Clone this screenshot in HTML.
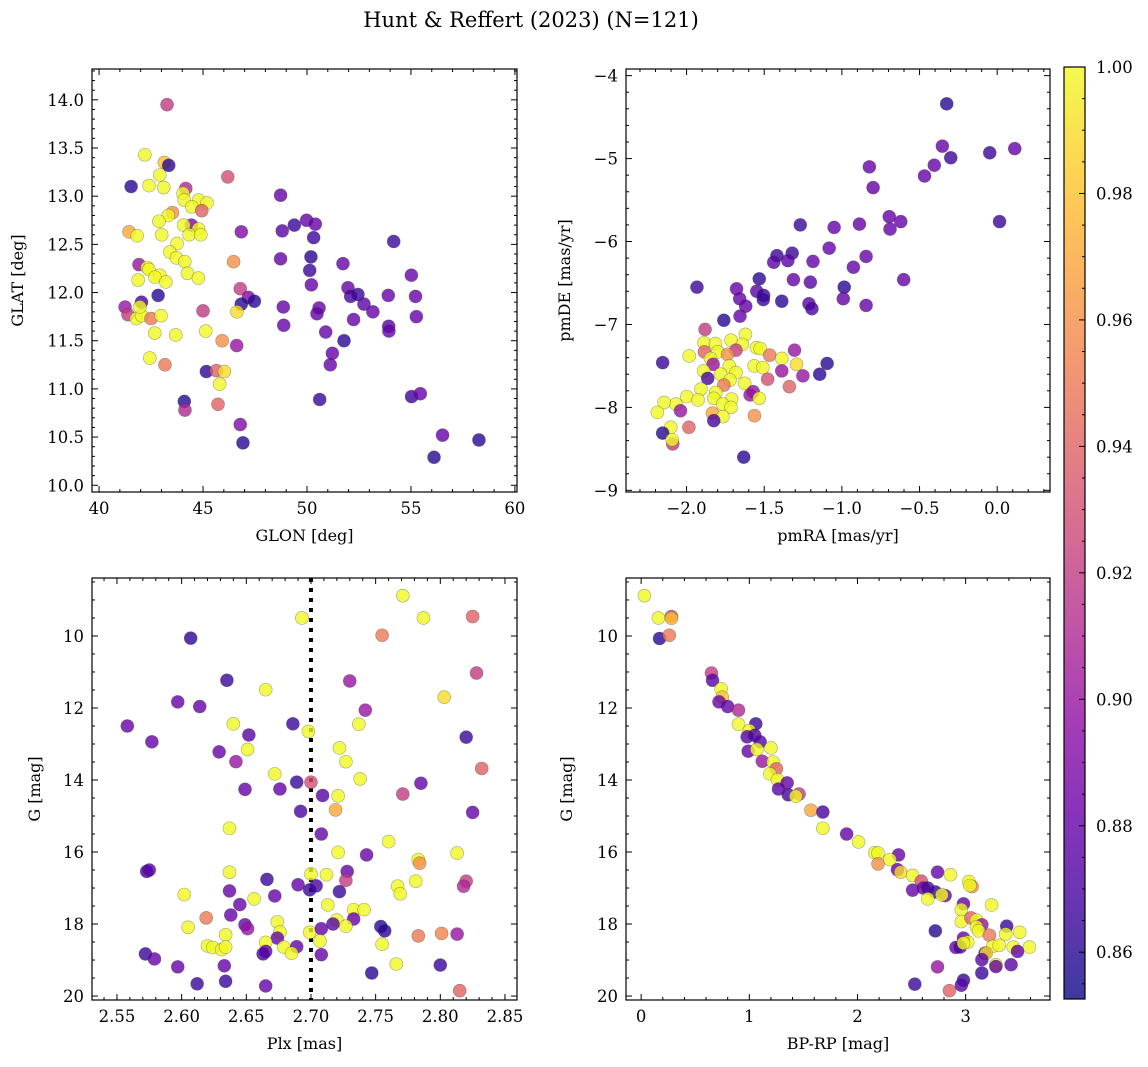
<!DOCTYPE html>
<html><head><meta charset="utf-8">
<style>
html,body{margin:0;padding:0;background:#fff;}
svg{display:block;font-family:"DejaVu Serif","Liberation Serif",serif;}
</style></head>
<body>
<svg id="fig" width="1148" height="1067" viewBox="0 0 1148 1067" xmlns="http://www.w3.org/2000/svg">
<defs>
<linearGradient id="cbgrad" x1="0" y1="1" x2="0" y2="0">
<stop offset="0" stop-color="#0d0887"/><stop offset="0.1" stop-color="#41049d"/><stop offset="0.2" stop-color="#6a00a8"/><stop offset="0.3" stop-color="#8f0da4"/><stop offset="0.4" stop-color="#b12a90"/><stop offset="0.5" stop-color="#cc4778"/><stop offset="0.6" stop-color="#e16462"/><stop offset="0.7" stop-color="#f2844b"/><stop offset="0.8" stop-color="#fca636"/><stop offset="0.9" stop-color="#fcce25"/><stop offset="1" stop-color="#f0f921"/>
</linearGradient>
</defs>
<text x="531" y="27" font-size="21" text-anchor="middle">Hunt &amp; Reffert (2023) (N=121)</text>
</svg>
<script>
// ---- Panel 1: GLON vs GLAT ----
const glon = [43.27,42.20,43.14,43.35,41.54,42.92,42.40,43.11,44.17,44.04,44.09,44.79,45.19,44.46,44.94,43.53,43.33,42.88,44.44,44.07,44.78,44.33,44.89,43.01,41.44,41.83,43.75,43.40,43.72,44.12,41.92,42.31,42.40,44.25,42.92,42.69,43.21,44.78,41.88,46.84,46.47,46.19,46.79,47.18,46.84,47.47,42.84,42.04,41.25,41.39,41.79,42.05,42.50,42.98,41.96,45.0,46.63,45.13,42.68,43.69,45.92,46.62,42.44,43.17,45.16,45.64,46.03,45.80,44.10,44.13,45.72,46.79,46.92,48.73,48.81,49.39,49.98,50.40,50.32,48.73,50.19,50.13,50.21,51.73,54.17,55.02,51.97,52.10,52.45,52.74,53.17,53.91,55.22,48.86,50.58,50.48,55.26,48.88,52.24,50.90,51.78,53.93,53.94,51.22,51.12,50.61,55.03,55.45,56.52,56.11,58.27];
const glat = [13.95,13.43,13.35,13.32,13.10,13.22,13.11,13.09,13.08,13.03,12.96,12.96,12.93,12.89,12.85,12.83,12.80,12.74,12.70,12.70,12.66,12.60,12.60,12.60,12.63,12.59,12.51,12.42,12.36,12.32,12.29,12.26,12.24,12.20,12.18,12.16,12.11,12.15,12.13,12.63,12.32,13.20,12.04,11.95,11.88,11.91,11.97,11.90,11.85,11.77,11.73,11.76,11.73,11.76,11.85,11.81,11.80,11.60,11.58,11.56,11.50,11.45,11.32,11.25,11.18,11.19,11.18,11.05,10.87,10.78,10.84,10.63,10.44,13.01,12.64,12.70,12.75,12.71,12.57,12.35,12.37,12.23,12.08,12.30,12.53,12.18,12.05,11.96,11.98,11.88,11.80,11.97,11.96,11.85,11.84,11.78,11.75,11.66,11.72,11.59,11.50,11.65,11.60,11.37,11.25,10.89,10.92,10.95,10.52,10.29,10.47];
const prob1 = [0.92,1,0.98,0.86,0.86,1,1,1,0.91,1,1,1,1,1,0.94,0.96,1,1,0.89,1,1,1,1,1,0.97,1,1,1,1,1,0.9,1,1,1,1,1,1,1,1,0.89,0.96,0.93,0.92,0.89,0.86,0.86,0.86,0.87,0.9,0.92,1,1,0.95,1,1,0.92,0.99,1,1,1,0.96,0.9,1,0.95,0.86,0.94,0.99,1,0.86,0.91,0.94,0.89,0.86,0.88,0.875,0.865,0.88,0.88,0.865,0.88,0.86,0.865,0.88,0.88,0.865,0.88,0.88,0.87,0.865,0.875,0.88,0.88,0.88,0.88,0.88,0.88,0.88,0.88,0.88,0.88,0.86,0.875,0.88,0.88,0.88,0.865,0.865,0.88,0.88,0.86,0.86];
const p1xTicks = [40,45,50,55,60];
const p1yTicks = [10.0,10.5,11.0,11.5,12.0,12.5,13.0,13.5,14.0];

// ---- Panel 2: pmRA vs pmDE ----
const pmra = [-0.325,-0.353,-0.299,-0.048,0.113,-0.405,-0.468,-0.823,-0.799,0.015,-0.695,-0.621,-0.690,-1.268,-1.050,-0.887,-1.082,-0.844,-0.926,-0.602,-1.418,-1.439,-1.320,-1.348,-1.186,-1.312,-1.203,-1.532,-0.985,-0.991,-0.844,-1.933,-1.678,-1.658,-1.548,-1.504,-1.506,-1.387,-1.212,-1.193,-1.619,-1.656,-1.760,-1.881,-1.621,-1.887,-1.814,-1.714,-1.641,-1.885,-1.682,-1.799,-1.736,-1.550,-1.526,-1.465,-1.387,-1.305,-1.983,-2.154,-1.846,-1.829,-1.725,-1.565,-1.509,-1.292,-1.095,-1.890,-1.781,-1.682,-1.864,-1.721,-1.626,-1.478,-1.387,-1.251,-1.143,-1.338,-1.760,-1.907,-1.812,-1.998,-1.926,-1.825,-1.591,-1.571,-1.532,-1.710,-1.768,-2.069,-2.145,-2.039,-2.188,-1.714,-1.833,-1.563,-1.766,-1.825,-1.985,-2.102,-2.154,-2.089,-2.093,-1.632];
const pmde = [-4.34,-4.85,-4.99,-4.93,-4.88,-5.08,-5.21,-5.10,-5.35,-5.76,-5.70,-5.76,-5.85,-5.80,-5.83,-5.79,-6.08,-6.18,-6.31,-6.46,-6.17,-6.25,-6.14,-6.23,-6.24,-6.46,-6.49,-6.45,-6.55,-6.69,-6.77,-6.55,-6.57,-6.69,-6.60,-6.65,-6.70,-6.72,-6.75,-6.81,-6.78,-6.90,-6.95,-7.06,-7.12,-7.22,-7.23,-7.19,-7.24,-7.33,-7.31,-7.33,-7.36,-7.28,-7.29,-7.37,-7.41,-7.31,-7.38,-7.46,-7.41,-7.48,-7.50,-7.50,-7.52,-7.48,-7.47,-7.56,-7.60,-7.58,-7.65,-7.67,-7.71,-7.66,-7.56,-7.62,-7.60,-7.75,-7.73,-7.78,-7.82,-7.87,-7.91,-7.89,-7.85,-7.81,-7.89,-7.90,-7.96,-7.96,-7.94,-8.04,-8.06,-8.00,-8.07,-8.10,-8.11,-8.16,-8.24,-8.24,-8.31,-8.44,-8.39,-8.60];
const prob2 = [0.86,0.88,0.865,0.865,0.88,0.88,0.88,0.88,0.88,0.865,0.88,0.88,0.88,0.865,0.88,0.88,0.88,0.88,0.88,0.88,0.865,0.875,0.865,0.875,0.88,0.88,0.875,0.86,0.86,0.88,0.88,0.865,0.88,0.88,0.875,0.865,0.865,0.86,0.875,0.87,0.88,0.88,0.86,0.92,1,1,1,1,1,0.94,0.92,1,0.96,1,1,0.95,1,0.9,1,0.865,1,0.9,1,1,1,0.99,0.86,1,1,1,0.87,1,1,0.93,0.9,0.9,0.86,0.94,0.95,1,1,1,1,1,0.9,0.9,1,1,1,1,1,0.9,1,1,0.97,0.96,1,0.87,0.94,1,0.86,0.92,1,0.86];
const p2xTicks = [-2.0,-1.5,-1.0,-0.5,0.0];
const p2yTicks = [-9,-8,-7,-6,-5,-4];

// ---- Panel 3: Plx vs G ----
const plx = [2.771,2.693,2.787,2.825,2.755,2.607,2.828,2.635,2.730,2.665,2.803,2.597,2.614,2.742,2.558,2.640,2.686,2.737,2.698,2.652,2.820,2.577,2.651,2.722,2.629,2.642,2.727,2.832,2.672,2.738,2.689,2.700,2.785,2.649,2.676,2.771,2.709,2.721,2.719,2.692,2.825,2.637,2.708,2.760,2.721,2.743,2.813,2.783,2.784,2.573,2.575,2.637,2.700,2.712,2.728,2.727,2.666,2.690,2.704,2.699,2.820,2.818,2.767,2.769,2.781,2.602,2.637,2.672,2.722,2.656,2.645,2.713,2.733,2.741,2.638,2.619,2.674,2.720,2.733,2.717,2.649,2.651,2.605,2.634,2.676,2.699,2.708,2.727,2.754,2.757,2.674,2.665,2.707,2.783,2.801,2.813,2.620,2.624,2.631,2.634,2.679,2.689,2.685,2.665,2.663,2.708,2.755,2.766,2.572,2.579,2.597,2.633,2.800,2.747,2.612,2.634,2.665,2.815];
const gmag3 = [8.88,9.50,9.50,9.46,9.98,10.06,11.03,11.23,11.25,11.49,11.70,11.83,11.96,12.06,12.50,12.44,12.44,12.45,12.65,12.75,12.81,12.94,13.15,13.11,13.22,13.49,13.49,13.68,13.83,13.97,14.06,14.06,14.09,14.26,14.25,14.39,14.43,14.44,14.83,14.87,14.90,15.34,15.50,15.71,16.01,16.08,16.03,16.21,16.31,16.54,16.50,16.56,16.61,16.63,16.54,16.79,16.76,16.91,16.94,17.05,16.81,16.95,16.95,17.16,16.81,17.18,17.08,17.22,17.10,17.30,17.46,17.47,17.60,17.60,17.75,17.83,17.94,17.89,17.86,18.00,18.02,18.13,18.09,18.30,18.22,18.23,18.13,18.06,18.07,18.19,18.39,18.51,18.47,18.33,18.26,18.28,18.61,18.65,18.71,18.64,18.64,18.63,18.81,18.76,18.83,18.85,18.56,19.11,18.83,18.97,19.19,19.16,19.14,19.36,19.66,19.59,19.72,19.85];
const prob3 = [1,1,1,0.94,0.95,0.86,0.92,0.865,0.9,1,0.99,0.88,0.88,0.9,0.88,1,0.865,1,1,0.875,0.865,0.88,1,1,0.88,0.9,1,0.94,1,1,0.865,0.93,0.88,0.88,0.88,0.92,0.875,1,0.97,0.87,0.88,1,0.88,1,1,0.88,1,1,0.96,0.87,0.875,1,1,1,0.88,0.92,0.865,0.88,0.87,0.865,0.92,0.91,1,1,1,1,0.88,0.88,0.865,1,0.88,1,1,1,0.88,0.95,1,1,0.88,0.875,0.88,0.9,1,1,1,1,0.88,1,0.86,0.86,0.88,1,1,0.95,0.955,0.9,1,1,1,1,1,0.88,1,0.88,0.87,0.88,1,1,0.865,0.88,0.88,0.88,0.865,0.86,0.865,0.865,0.88,0.94];
const plxLine = [2.70];
const p3xTicks = [2.55,2.60,2.65,2.70,2.75,2.80,2.85];
const gTicks = [10,12,14,16,18,20];

// ---- Panel 4: BP-RP vs G ----
const bprp = [0.03,0.16,0.28,0.28,0.17,0.26,0.65,0.66,0.74,0.75,0.72,0.80,0.90,1.06,0.90,1.00,0.98,1.05,1.10,1.20,0.99,1.07,1.12,1.22,1.25,1.19,1.26,1.35,1.27,1.36,1.46,1.43,1.57,1.68,1.68,1.90,2.01,2.16,2.19,2.38,2.19,2.30,2.37,2.40,2.74,2.86,2.51,2.59,2.61,2.51,2.65,2.72,2.81,2.78,2.65,3.03,3.06,3.04,3.24,2.98,2.96,2.96,3.05,3.10,3.15,3.10,3.12,3.22,2.72,3.38,3.37,3.50,2.98,3.02,2.91,2.95,2.98,3.25,3.31,3.44,3.59,3.48,3.18,3.19,3.15,3.28,3.28,3.42,3.15,2.74,2.53,2.98,2.96,2.85];
const gmag4 = [8.88,9.50,9.46,9.51,10.07,9.98,11.03,11.23,11.47,11.70,11.83,11.96,12.06,12.44,12.45,12.63,12.80,12.76,12.94,13.11,13.20,13.15,13.48,13.50,13.69,13.83,13.99,14.08,14.25,14.41,14.39,14.45,14.84,14.89,15.34,15.50,15.72,16.02,16.03,16.08,16.33,16.21,16.49,16.56,16.56,16.63,16.65,16.81,17.00,17.06,17.00,17.11,17.21,17.19,17.30,16.82,16.96,16.93,17.47,17.44,17.60,17.93,17.83,17.89,18.02,18.08,18.19,18.31,18.19,18.06,18.28,18.23,18.39,18.50,18.65,18.64,18.53,18.62,18.59,18.64,18.64,18.76,18.81,18.81,18.99,19.13,19.18,19.13,19.36,19.19,19.67,19.56,19.70,19.85];
const prob4 = [1,1,0.93,0.98,0.86,0.95,0.92,0.875,1,0.98,0.88,0.88,0.91,0.865,1,1,0.875,0.87,0.875,1,0.88,1,0.9,1,0.94,1,1,0.88,0.875,0.87,0.92,1,0.97,0.87,1,0.88,1,1,1,0.88,0.96,1,0.88,0.99,0.88,1,1,0.93,0.88,0.88,0.87,0.865,0.88,1,1,1,0.96,1,1,0.88,1,1,0.94,1,0.9,1,1,0.95,0.86,0.865,1,1,0.88,1,0.88,0.87,1,1,1,1,1,0.88,0.875,0.99,0.875,1,0.88,0.875,0.865,0.9,0.865,0.865,0.875,0.94];
const p4xTicks = [0,1,2,3];

// ---- Colorbar ----
const cbTicks = [0.86,0.88,0.90,0.92,0.94,0.96,0.98,1.00];
const cMin = 0.8526, cMax = 1.0;

const NS = "http://www.w3.org/2000/svg";
const svg = document.getElementById('fig');
const stops = [[13,8,135],[65,4,157],[106,0,168],[143,13,164],[177,42,144],[204,71,120],[225,100,98],[242,132,75],[252,166,54],[252,206,37],[240,249,33]];
function plasma(v){
  let t = Math.max(0, Math.min(1, (v - cMin) / (cMax - cMin))) * 10;
  let i = Math.min(9, Math.floor(t)), f = t - i;
  const a = stops[i], b = stops[i+1];
  return 'rgb(' + a.map((x,k)=>Math.round(x + (b[k]-x)*f)).join(',') + ')';
}
function mk(tag, attrs, parent){
  const e = document.createElementNS(NS, tag);
  for (const k in attrs) e.setAttribute(k, attrs[k]);
  (parent || svg).appendChild(e);
  return e;
}
function fmt(v, d){ const s = v.toFixed(d); return s.replace('-', '\u2212'); }
const TICKFS = 16.5, LABFS = 16;

function panel(cfg){
  const g = mk('g', {});
  
  
  const L = cfg.box[0], T = cfg.box[1], R = cfg.box[2], B = cfg.box[3];
  const sx = v => L + (v - cfg.xr[0]) / (cfg.xr[1] - cfg.xr[0]) * (R - L);
  const sy = v => cfg.yinv ? T + (v - cfg.yr[0]) / (cfg.yr[1] - cfg.yr[0]) * (B - T)
                           : B - (v - cfg.yr[0]) / (cfg.yr[1] - cfg.yr[0]) * (B - T);
  if (cfg.vline) {
    cfg.vline.forEach(v => {
      const ln = mk('line', {x1: sx(v), x2: sx(v), y1: T, y2: B, stroke: '#000', 'stroke-width': 4, 'stroke-dasharray': '4,6'}, g);
      
      
    });
  }
  const pg = mk('g', {}, g);
  
  
  for (let i = 0; i < cfg.x.length; i++) {
    const c = mk('circle', {cx: sx(cfg.x[i]), cy: sy(cfg.y[i]), r: 6.5, fill: plasma(cfg.c[i]), 'fill-opacity': 0.8, stroke: 'rgba(60,60,60,0.45)', 'stroke-width': 0.6}, pg);
    
    
  }
  const fr = mk('rect', {x: L, y: T, width: R - L, height: B - T, fill: 'none', stroke: '#000', 'stroke-width': 1.2}, g);
  
  
  const xt0 = Math.ceil(cfg.xr[0] / cfg.xminor - 1e-6), xt1 = Math.floor(cfg.xr[1] / cfg.xminor + 1e-6);
  for (let k = xt0; k <= xt1; k++) {
    const v = k * cfg.xminor, X = sx(v);
    const major = cfg.xticks.some(t => Math.abs(t - v) < cfg.xminor / 10);
    const len = major ? 6 : 3;
    mk('line', {x1: X, x2: X, y1: B, y2: B - len, stroke: '#000', 'stroke-width': 1}, g);
    mk('line', {x1: X, x2: X, y1: T, y2: T + len, stroke: '#000', 'stroke-width': 1}, g);
  }
  cfg.xticks.forEach(v => {
    const t = mk('text', {x: sx(v), y: B + 22, 'font-size': TICKFS, 'text-anchor': 'middle'}, g);
    
    
    t.textContent = fmt(v, cfg.xd);
  });
  const yt0 = Math.ceil(Math.min(cfg.yr[0], cfg.yr[1]) / cfg.yminor - 1e-6), yt1 = Math.floor(Math.max(cfg.yr[0], cfg.yr[1]) / cfg.yminor + 1e-6);
  for (let k = yt0; k <= yt1; k++) {
    const v = k * cfg.yminor, Y = sy(v);
    const major = cfg.yticks.some(t => Math.abs(t - v) < cfg.yminor / 10);
    const len = major ? 6 : 3;
    mk('line', {x1: L, x2: L + len, y1: Y, y2: Y, stroke: '#000', 'stroke-width': 1}, g);
    mk('line', {x1: R, x2: R - len, y1: Y, y2: Y, stroke: '#000', 'stroke-width': 1}, g);
  }
  cfg.yticks.forEach(v => {
    const t = mk('text', {x: L - 8, y: sy(v) + 6, 'font-size': TICKFS, 'text-anchor': 'end'}, g);
    
    
    t.textContent = fmt(v, cfg.yd);
  });
  const xl = mk('text', {x: (L + R) / 2, y: B + 49, 'font-size': LABFS, 'text-anchor': 'middle'}, g);
  
  
  xl.textContent = cfg.xlabel;
  const yx = cfg.ylabelX, yy = (T + B) / 2;
  const yl = mk('text', {x: yx, y: yy, 'font-size': LABFS, 'text-anchor': 'middle', transform: 'rotate(-90 ' + yx + ' ' + yy + ')'}, g);
  
  
  yl.textContent = cfg.ylabel;
}

panel({name:'glon-glat-panel', box:[92,69,517,492], xr:[39.66,60.1], yr:[9.93,14.32], x:glon, y:glat, c:prob1,
  xticks:p1xTicks, xminor:1, xd:0, yticks:p1yTicks, yminor:0.1, yd:1, xlabel:'GLON [deg]', ylabel:'GLAT [deg]', ylabelX:23});
panel({name:'proper-motion-panel', box:[626,69,1050,492], xr:[-2.39,0.34], yr:[-9.02,-3.92], x:pmra, y:pmde, c:prob2,
  xticks:p2xTicks, xminor:0.1, xd:1, yticks:p2yTicks, yminor:0.2, yd:0, xlabel:'pmRA [mas/yr]', ylabel:'pmDE [mas/yr]', ylabelX:570});
panel({name:'parallax-panel', box:[92,578,517,1000], xr:[2.5307,2.8593], yr:[8.39,20.11], yinv:true, x:plx, y:gmag3, c:prob3,
  xticks:p3xTicks, xminor:0.01, xd:2, yticks:gTicks, yminor:0.5, yd:0, xlabel:'Plx [mas]', ylabel:'G [mag]', ylabelX:40, vline:plxLine});
panel({name:'cmd-panel', box:[626,578,1050,1000], xr:[-0.14,3.78], yr:[8.39,20.11], yinv:true, x:bprp, y:gmag4, c:prob4,
  xticks:p4xTicks, xminor:0.2, xd:0, yticks:gTicks, yminor:0.5, yd:0, xlabel:'BP-RP [mag]', ylabel:'G [mag]', ylabelX:572});

(function(){
  const L = 1064, R = 1085, T = 67, B = 999;
  const cg = mk('g', {});
  
  
  const r = mk('rect', {x: L, y: T, width: R - L, height: B - T, fill: 'url(#cbgrad)', 'fill-opacity': 0.8, stroke: 'none'}, cg);
  
  
  mk('rect', {x: L, y: T, width: R - L, height: B - T, fill: 'none', stroke: '#000', 'stroke-width': 1.2}, cg);
  const sy = v => B - (v - cMin) / (cMax - cMin) * (B - T);
  for (let k = Math.ceil(cMin / 0.005); k <= Math.floor(cMax / 0.005 + 1e-6); k++) {
    const v = k * 0.005, major = cbTicks.some(t => Math.abs(t - v) < 0.001);
    mk('line', {x1: R, x2: R - (major ? 6 : 3), y1: sy(v), y2: sy(v), stroke: '#000', 'stroke-width': 1}, cg);
  }
  cbTicks.forEach(v => {
    const t = mk('text', {x: R + 11, y: sy(v) + 6, 'font-size': TICKFS}, cg);
    
    
    t.textContent = v.toFixed(2);
  });
})();
</script>
</body></html>
